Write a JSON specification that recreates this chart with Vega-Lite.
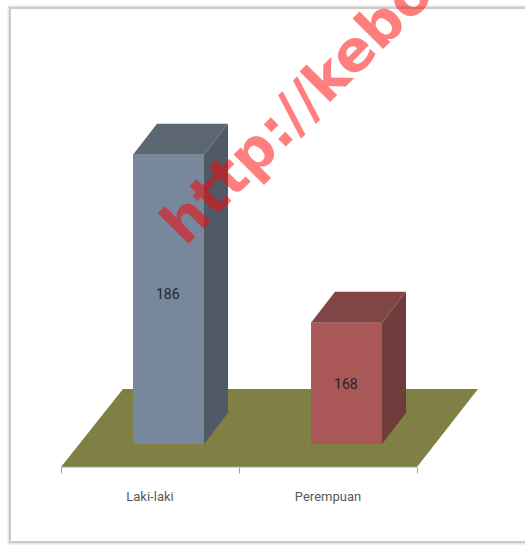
{
"$schema":"https://vega.github.io/schema/vega-lite/v6.json",
"width":525,"height":545,"padding":0,"autosize":{"type":"none"},
"background":"white","view":{"stroke":null},
"datasets":{
"frame":[{"x":-0.2865,"x2":2.8,"y":201.73,"y2":144.5}],
"faces":[
{"face":"floor","x":0,"y":152.535,"y2":152.535},
{"face":"floor","x":0.3483,"y":160.895,"y2":152.535},
{"face":"floor","x":2,"y":160.895,"y2":152.535},
{"face":"floor","x":2.3427,"y":160.895,"y2":160.895},
{"face":"Laki-laki front","x":0.4045,"y":186,"y2":155},
{"face":"Laki-laki front","x":0.8034,"y":186,"y2":155},
{"face":"Laki-laki top","x":0.4045,"y":186,"y2":186},
{"face":"Laki-laki top","x":0.5393,"y":189.32,"y2":186},
{"face":"Laki-laki top","x":0.8034,"y":189.32,"y2":186},
{"face":"Laki-laki top","x":0.9382,"y":189.32,"y2":189.32},
{"face":"Laki-laki side","x":0.8034,"y":186,"y2":155},
{"face":"Laki-laki side","x":0.9382,"y":189.32,"y2":158.32},
{"face":"Perempuan front","x":1.4045,"y":168,"y2":155},
{"face":"Perempuan front","x":1.8034,"y":168,"y2":155},
{"face":"Perempuan top","x":1.4045,"y":168,"y2":168},
{"face":"Perempuan top","x":1.5393,"y":171.32,"y2":168},
{"face":"Perempuan top","x":1.8034,"y":171.32,"y2":168},
{"face":"Perempuan top","x":1.9382,"y":171.32,"y2":171.32},
{"face":"Perempuan side","x":1.8034,"y":168,"y2":155},
{"face":"Perempuan side","x":1.9382,"y":171.32,"y2":158.32}
],
"baseline":[{"x":0,"x2":2,"y":152.535}],
"bars":[{"category":"Laki-laki","x":0.6,"value":186,"labelY":170.97},{"category":"Perempuan","x":1.6,"value":168,"labelY":161.32}],
"cats":[{"category":"Laki-laki","x":0.5,"y":149.32},{"category":"Perempuan","x":1.5,"y":149.32}],
"mark":[{"text":"http://kebo","x":0.697,"y":176.1}]
},
"encoding":{
"x":{"field":"x","type":"quantitative","scale":{"domain":[-0.3427,2.6067],"nice":false,"zero":false},
"axis":{"title":null,"values":[0,1,2],"labels":false,"domain":false,"grid":false,"ticks":true,"tickColor":"#a8a8a8","tickSize":6,"offset":-78,"zindex":1}},
"y":{"field":"y","type":"quantitative","scale":{"domain":[144.18,202.59],"nice":false,"zero":false},"axis":null}
},
"layer":[
{"data":{"name":"frame"},"mark":{"type":"rect","fill":"white","stroke":"#e6e6e6","strokeWidth":5},"encoding":{"x2":{"field":"x2"},"y2":{"field":"y2"}}},
{"data":{"name":"frame"},"mark":{"type":"rect","fill":"white","stroke":"#cacaca","strokeWidth":2},"encoding":{"x2":{"field":"x2"},"y2":{"field":"y2"}}},
{"data":{"name":"faces"},"mark":{"type":"area","orient":"vertical","interpolate":"linear"},
"encoding":{"y2":{"field":"y2"},"detail":{"field":"face"},
"color":{"field":"face","type":"nominal","legend":null,"scale":{"domain":["floor","Laki-laki front","Laki-laki top","Laki-laki side","Perempuan front","Perempuan top","Perempuan side"],"range":["#808045","#77879c","#5c6673","#505a66","#a95757","#824646","#703b3b"]}}}},
{"data":{"name":"baseline"},"mark":{"type":"rule","color":"#a8a8a8","strokeWidth":1},"encoding":{"x2":{"field":"x2"}}},
{"data":{"name":"bars"},"mark":{"type":"text","font":"Roboto","fontSize":14,"fill":"#262626"},"encoding":{"y":{"field":"labelY","type":"quantitative"},"text":{"field":"value","type":"quantitative"}}},
{"data":{"name":"cats"},"mark":{"type":"text","font":"Roboto","fontSize":13,"fill":"#595959"},"encoding":{"text":{"field":"category"}}},
{"data":{"name":"mark"},"mark":{"type":"text","font":"DejaVu Sans","fontWeight":"bold","fontSize":57,"fill":"#ff0000","opacity":0.5,"angle":315,"align":"left","baseline":"alphabetic"},"encoding":{"text":{"field":"text"}}}
]
}
